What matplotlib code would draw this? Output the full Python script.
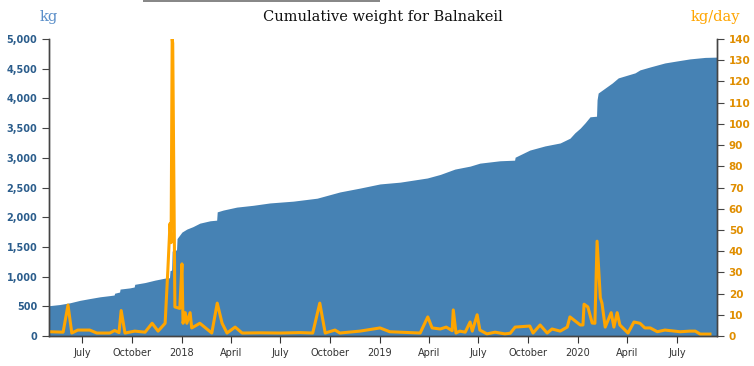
import matplotlib
matplotlib.use("Agg")
import matplotlib.pyplot as plt
import matplotlib.dates as mdates
import matplotlib.ticker as mticker
import numpy as np
import pandas as pd

# cumulative weight (kg)
cum_dates = ["2017-05-01", "2017-05-21", "2017-06-09", "2017-06-27", "2017-07-15",
             "2017-08-03", "2017-08-21", "2017-08-29", "2017-08-30", "2017-09-08",
             "2017-09-09", "2017-09-27", "2017-10-05", "2017-10-06", "2017-10-25",
             "2017-11-12", "2017-12-01", "2017-12-09", "2017-12-10", "2017-12-13",
             "2017-12-14", "2017-12-22", "2017-12-23", "2018-01-01", "2018-01-10",
             "2018-01-21", "2018-02-03", "2018-02-22", "2018-03-06", "2018-03-07",
             "2018-03-18", "2018-04-12", "2018-05-12", "2018-06-12", "2018-07-25",
             "2018-09-07", "2018-10-19", "2018-11-25", "2019-01-01", "2019-02-07",
             "2019-03-29", "2019-04-22", "2019-05-19", "2019-06-16", "2019-07-04",
             "2019-08-10", "2019-09-06", "2019-09-07", "2019-10-04", "2019-11-01",
             "2019-11-29", "2019-12-17", "2019-12-26", "2020-01-05", "2020-01-14",
             "2020-01-23", "2020-02-04", "2020-02-05", "2020-02-07", "2020-02-20",
             "2020-03-04", "2020-03-15", "2020-04-15", "2020-04-24", "2020-05-13",
             "2020-06-09", "2020-07-01", "2020-07-25", "2020-08-22", "2020-09-13"]
cum_kg = [510, 530, 560, 600, 630,
          660, 680, 690, 720, 740,
          790, 810, 825, 870, 900,
          940, 975, 980, 1100, 1110,
          1430, 1450, 1640, 1750, 1800,
          1840, 1900, 1940, 1950, 2090,
          2120, 2170, 2200, 2240, 2270,
          2320, 2425, 2490, 2560, 2590,
          2660, 2720, 2810, 2860, 2910,
          2950, 2960, 3010, 3130, 3200,
          3250, 3330, 3420, 3500, 3590,
          3690, 3700, 3975, 4090, 4175,
          4260, 4345, 4430, 4480, 4530,
          4597, 4630, 4665, 4690, 4695]

# collection rate (kg/day)
rate_dates = ["2017-05-03", "2017-05-27", "2017-06-05", "2017-06-12", "2017-06-23",
              "2017-07-15", "2017-07-28", "2017-08-21", "2017-08-30", "2017-09-07",
              "2017-09-11", "2017-09-18", "2017-10-06", "2017-10-25", "2017-11-07",
              "2017-11-18", "2017-12-01", "2017-12-06", "2017-12-10", "2017-12-12",
              "2017-12-14", "2017-12-15", "2017-12-19", "2017-12-28", "2018-01-01",
              "2018-01-03", "2018-01-07", "2018-01-10", "2018-01-16", "2018-01-19",
              "2018-02-03", "2018-02-25", "2018-03-07", "2018-03-16", "2018-03-25",
              "2018-04-09", "2018-04-22", "2018-05-25", "2018-07-01", "2018-08-07",
              "2018-08-30", "2018-09-12", "2018-09-22", "2018-10-10", "2018-10-19",
              "2018-11-25", "2019-01-01", "2019-01-19", "2019-03-16", "2019-03-30",
              "2019-04-07", "2019-04-22", "2019-05-03", "2019-05-14", "2019-05-16",
              "2019-05-21", "2019-05-28", "2019-06-07", "2019-06-16", "2019-06-20",
              "2019-06-29", "2019-07-04", "2019-07-17", "2019-08-01", "2019-08-19",
              "2019-08-29", "2019-09-07", "2019-10-04", "2019-10-10", "2019-10-23",
              "2019-11-05", "2019-11-14", "2019-11-29", "2019-12-12", "2019-12-17",
              "2020-01-05", "2020-01-10", "2020-01-12", "2020-01-19", "2020-01-27",
              "2020-02-01", "2020-02-05", "2020-02-11", "2020-02-14", "2020-02-20",
              "2020-03-02", "2020-03-07", "2020-03-13", "2020-03-18", "2020-04-02",
              "2020-04-13", "2020-04-24", "2020-05-03", "2020-05-13", "2020-05-26",
              "2020-06-09", "2020-07-07", "2020-07-25", "2020-08-04", "2020-08-13",
              "2020-08-31"]
rate_kg = [2, 1.8, 14.6, 1.4, 2.8,
           2.8, 1.4, 1.4, 2.6, 1.6,
           12, 1.4, 2.3, 1.8, 6,
           2.3, 6, 31, 53, 44,
           140, 138, 13.7, 13, 34,
           6, 11, 6, 11, 3.8,
           6, 1.4, 15.5, 6, 1.4,
           4.2, 1.4, 1.5, 1.4, 1.6,
           1.4, 15.5, 1.4, 2.8, 1.4,
           2.3, 3.8, 2, 1.4, 9,
           3.8, 3.3, 4.2, 2.5, 12.3,
           1.4, 2.3, 1.8, 6.6, 2.3,
           10, 2.8, 1, 1.8, 1,
           1.3, 4.2, 4.7, 1.4, 5.2,
           1.4, 3.3, 2.3, 4.2, 9,
           5.2, 5.2, 15, 13.7, 6.1,
           6, 44.7, 18, 15.5, 4.2,
           11, 4.2, 11, 5.2, 1.4,
           6.6, 6, 3.8, 3.8, 2,
           2.8, 2, 2.3, 2.3, 0.9,
           0.9]

x_start, x_end = "2017-05-01", "2020-09-13"

cd = pd.to_datetime(cum_dates)
rd = pd.to_datetime(rate_dates)

fig = plt.figure(figsize=(7.54, 3.66), dpi=100)
ax = fig.add_axes([49 / 754, 30 / 366, 668 / 754, 297 / 366])
ax2 = ax.twinx()

ax.fill_between(cd, cum_kg, color="#4682b4", linewidth=0)
ax2.plot(rd, rate_kg, color="#ffa500", linewidth=2.2)

ax.set_xlim(pd.Timestamp(x_start), pd.Timestamp(x_end))
ax.set_ylim(0, 5000)
ax2.set_ylim(0, 140)

ax.yaxis.set_major_locator(mticker.MultipleLocator(500))
ax.yaxis.set_major_formatter(mticker.FuncFormatter(lambda v, p: f"{int(v):,}"))
ax2.yaxis.set_major_locator(mticker.MultipleLocator(10))

ax.xaxis.set_major_locator(mdates.MonthLocator(bymonth=[1, 4, 7, 10]))
ax.xaxis.set_major_formatter(mticker.FuncFormatter(
    lambda v, p: mdates.num2date(v).strftime("%Y") if mdates.num2date(v).month == 1
    else mdates.num2date(v).strftime("%B")))

for a in (ax, ax2):
    a.spines["top"].set_visible(False)
    for s in a.spines.values():
        s.set_color("#444444")
        s.set_linewidth(1)

ax.tick_params(axis="x", labelsize=7, colors="#333333", length=5, direction="out")
ax.tick_params(axis="y", labelsize=7, length=5, colors="#444444", labelcolor="#2b5d8c")
ax2.tick_params(axis="y", labelsize=7.5, length=5, colors="#444444", labelcolor="#e08e00")
for t in ax.get_yticklabels():
    t.set_fontweight("bold")
for t in ax2.get_yticklabels():
    t.set_fontweight("bold")

fig.text(383 / 754, 1 - 17 / 366, "Cumulative weight for Balnakeil", ha="center", va="center",
         family="DejaVu Serif", fontsize=10.5, color="#111111")
fig.text(49 / 754, 1 - 17 / 366, "kg", ha="center", va="center",
         family="DejaVu Serif", fontsize=10.5, color="#5b8fc9")
fig.text(715 / 754, 1 - 17 / 366, "kg/day", ha="center", va="center",
         family="DejaVu Serif", fontsize=10.5, color="#ffa500")

# grey strip at the very top of the reference screenshot
fig.add_artist(plt.Rectangle((143 / 754, 1 - 2 / 366), 237 / 754, 2 / 366,
                             transform=fig.transFigure, color="#888888", lw=0))

fig.savefig("out.png", dpi=100)
